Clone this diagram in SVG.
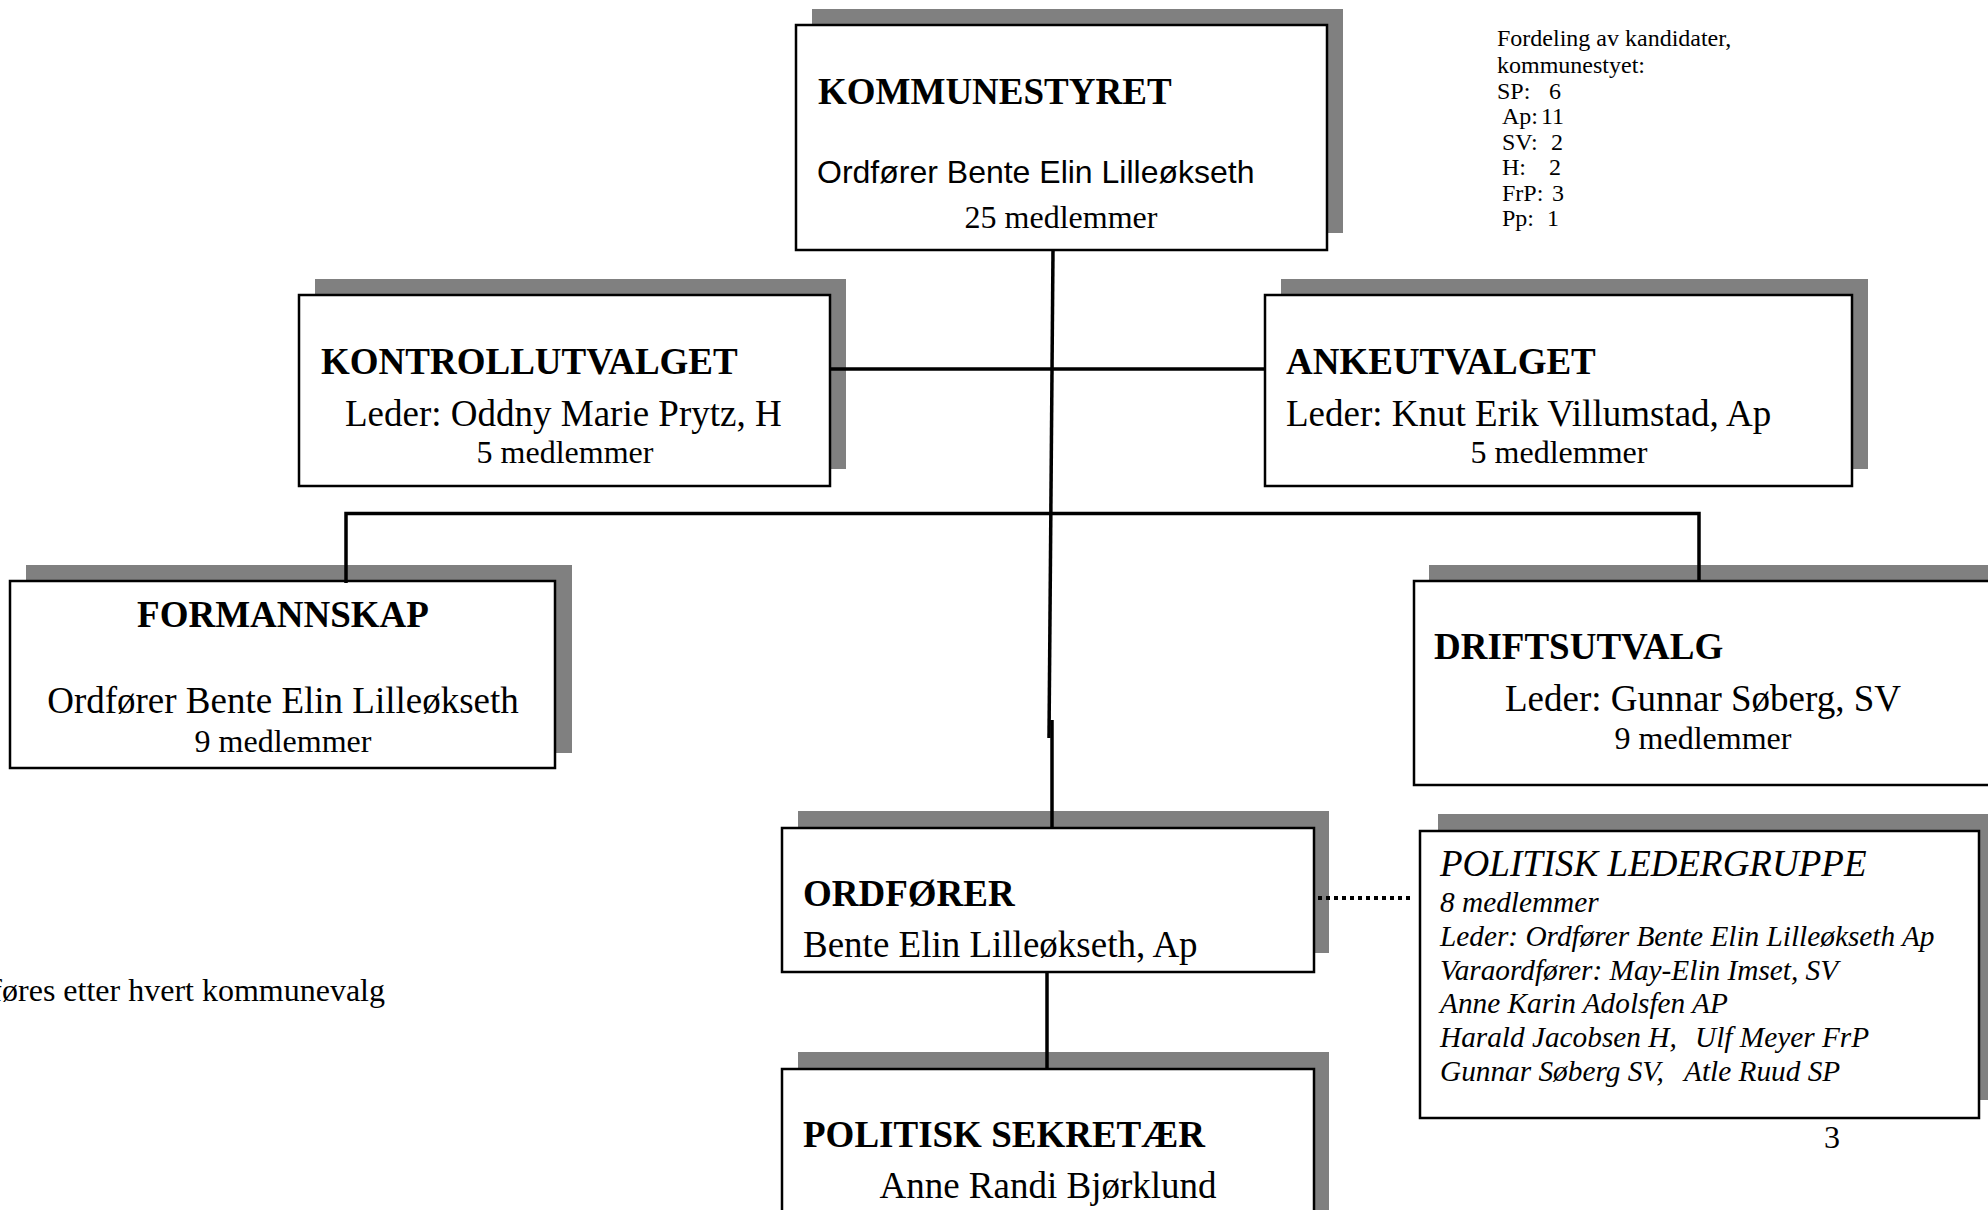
<svg xmlns="http://www.w3.org/2000/svg" width="1988" height="1210" viewBox="0 0 1988 1210">
<style>
.bg{fill:#ffffff}
.sh{fill:#808080}
.box{fill:#ffffff;stroke:#000;stroke-width:2.5}
.t{font-family:"Liberation Serif","Times New Roman",serif;fill:#000}
.b{font-weight:bold;font-size:37px}
.l{font-size:37px}
.m{font-size:32px}
.s{font-size:24px}
.i{font-style:italic}
.a{font-family:"Liberation Sans",Arial,sans-serif;font-size:32px;fill:#000}
.c{text-anchor:middle}
.con{fill:none;stroke:#000;stroke-width:3.5}
.dot{fill:none;stroke:#000;stroke-width:4;stroke-dasharray:4 4}
</style>
<rect class="bg" x="0" y="0" width="1988" height="1210"/>

<g id="kommunestyret">
<rect class="sh" x="812" y="9" width="531" height="224"/>
<rect class="box" x="796" y="25" width="531" height="225"/>
<text class="t b" x="818" y="104">KOMMUNESTYRET</text>
<text class="a" x="817" y="183">Ordfører Bente Elin Lilleøkseth</text>
<text class="t m c" x="1061" y="228">25 medlemmer</text>
</g>

<g id="legend">
<text class="t s" x="1497" y="46">Fordeling av kandidater,</text>
<text class="t s" x="1497" y="73">kommunestyet:</text>
<text class="t s" x="1497" y="99">SP:<tspan x="1549">6</tspan></text>
<text class="t s" x="1502" y="124">Ap:<tspan x="1541">11</tspan></text>
<text class="t s" x="1502" y="150">SV:<tspan x="1551">2</tspan></text>
<text class="t s" x="1502" y="175">H:<tspan x="1549">2</tspan></text>
<text class="t s" x="1502" y="201">FrP:<tspan x="1552">3</tspan></text>
<text class="t s" x="1502" y="226">Pp:<tspan x="1547">1</tspan></text>
</g>

<g id="kontrollutvalget">
<rect class="sh" x="315" y="279" width="531" height="190"/>
<rect class="box" x="299" y="295" width="531" height="191"/>
<text class="t b" x="321" y="374">KONTROLLUTVALGET</text>
<text class="t l" x="345" y="426">Leder: Oddny Marie Prytz, H</text>
<text class="t m c" x="565" y="463">5 medlemmer</text>
</g>

<g id="ankeutvalget">
<rect class="sh" x="1281" y="279" width="587" height="190"/>
<rect class="box" x="1265" y="295" width="587" height="191"/>
<text class="t b" x="1286" y="374">ANKEUTVALGET</text>
<text class="t l" x="1286" y="426">Leder: Knut Erik Villumstad, Ap</text>
<text class="t m c" x="1559" y="463">5 medlemmer</text>
</g>

<g id="formannskap">
<rect class="sh" x="26" y="565" width="546" height="188"/>
<rect class="box" x="10" y="581" width="545" height="187"/>
<text class="t b c" x="283" y="627">FORMANNSKAP</text>
<text class="t l c" x="283" y="713">Ordfører Bente Elin Lilleøkseth</text>
<text class="t m c" x="283" y="752">9 medlemmer</text>
</g>

<g id="driftsutvalg">
<rect class="sh" x="1429" y="565" width="600" height="204"/>
<rect class="box" x="1414" y="581" width="600" height="204"/>
<text class="t b" x="1434" y="659">DRIFTSUTVALG</text>
<text class="t l c" x="1703" y="711">Leder: Gunnar Søberg, SV</text>
<text class="t m c" x="1703" y="749">9 medlemmer</text>
</g>

<g id="ordforer">
<rect class="sh" x="798" y="811" width="531" height="142"/>
<rect class="box" x="782" y="828" width="532" height="144"/>
<text class="t b" x="803" y="906">ORDFØRER</text>
<text class="t l" x="803" y="957">Bente Elin Lilleøkseth, Ap</text>
</g>

<g id="politisk-ledergruppe">
<rect class="sh" x="1438" y="814" width="560" height="286"/>
<rect class="box" x="1420" y="831" width="559" height="287"/>
<text class="t l i" x="1440" y="876">POLITISK LEDERGRUPPE</text>
<text class="t i" font-size="29.3" x="1440" y="912">8 medlemmer</text>
<text class="t i" font-size="29.3" x="1440" y="946">Leder: Ordfører Bente Elin Lilleøkseth Ap</text>
<text class="t i" font-size="29.3" x="1440" y="980">Varaordfører: May-Elin Imset, SV</text>
<text class="t i" font-size="29.3" x="1440" y="1013">Anne Karin Adolsfen AP</text>
<text class="t i" font-size="29.3" x="1440" y="1047">Harald Jacobsen H,<tspan x="1695">Ulf Meyer FrP</tspan></text>
<text class="t i" font-size="29.3" x="1440" y="1081">Gunnar Søberg SV,<tspan x="1684">Atle Ruud SP</tspan></text>
</g>

<g id="politisk-sekretaer">
<rect class="sh" x="798" y="1052" width="531" height="200"/>
<rect class="box" x="782" y="1069" width="532" height="200"/>
<text class="t b" x="803" y="1147">POLITISK SEKRETÆR</text>
<text class="t l c" x="1048" y="1198">Anne Randi Bjørklund</text>
</g>

<g id="notes">
<text class="t m" x="385" y="1001" text-anchor="end">føres etter hvert kommunevalg</text>
<text class="t m c" x="1832" y="1148">3</text>
</g>

<g id="connectors">
<line class="con" x1="1053" y1="250" x2="1049" y2="738"/>
<line class="con" x1="1052" y1="720" x2="1052" y2="828"/>
<line class="con" x1="830" y1="369" x2="1265" y2="369"/>
<polyline class="con" points="346,583 346,513.5 1699,513.5 1699,581"/>
<line class="con" x1="1047" y1="972" x2="1047" y2="1069"/>
<line class="dot" x1="1318" y1="898" x2="1414" y2="898"/>
</g>
</svg>
